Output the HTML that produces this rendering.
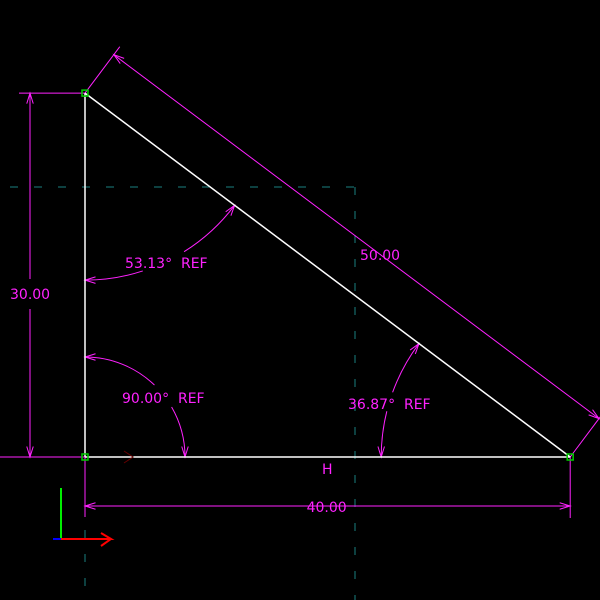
<!DOCTYPE html>
<html><head><meta charset="utf-8"><style>
html,body{margin:0;padding:0;background:#000;width:600px;height:600px;overflow:hidden}
svg{display:block}
text{font-family:"DejaVu Sans","Liberation Sans",sans-serif;font-size:14px;fill:#ff22ff;white-space:pre}
</style></head><body>
<svg id="s" width="600" height="600" viewBox="0 0 600 600">
<g stroke="#1a8080" stroke-width="1" stroke-dasharray="8,16" fill="none">
<line x1="10" y1="187" x2="355" y2="187"/>
<line x1="355" y1="187" x2="355" y2="600"/>
<line x1="85" y1="530" x2="85" y2="600"/>
</g>
<g id="dims" stroke="#ff22ff" stroke-width="1" fill="none"></g>
<g id="geo" stroke="#fff" stroke-width="1.5" fill="none"></g>
<g id="labels"></g>
<g>
<line x1="61" y1="488" x2="61" y2="539" stroke="#00ee00" stroke-width="2"/>
<line x1="53" y1="539" x2="61" y2="539" stroke="#0000ff" stroke-width="2"/>
<polyline points="61,539 111,539 101,533 111,539 101,546" stroke="#ff0000" stroke-width="2" fill="none"/>
<polyline points="124,451 133,457 124,463" stroke="#660000" stroke-width="1" fill="none"/>
</g>
</svg>
<script>
const sideLabels=["30.00","40.00","50.00"];
const sideValues=[30,40,50];
const angleValues=[53.13,90.00,36.87];
const scale=12.13;
const A=[85,457-sideValues[0]*scale], B=[85,457], C=[85+sideValues[1]*scale,457];
const NS="http://www.w3.org/2000/svg";
function mk(parent,tag,attrs){const e=document.createElementNS(NS,tag);for(const k in attrs)e.setAttribute(k,attrs[k]);document.getElementById(parent).appendChild(e);return e;}
function line(p,a,b,name){const e=mk(p,'line',{x1:a[0],y1:a[1],x2:b[0],y2:b[1]});

return e;}
function arrow(tip,dir,name){const L=11,w=0.3;const a=Math.atan2(dir[1],dir[0]);
const p1=[tip[0]-L*Math.cos(a-w),tip[1]-L*Math.sin(a-w)],p2=[tip[0]-L*Math.cos(a+w),tip[1]-L*Math.sin(a+w)];
const e=mk('dims','polyline',{points:`${p1} ${tip} ${p2}`});

}
function txt(x,y,s,name){const e=mk('labels','text',{x:x,y:y});e.textContent=s;

}
line('geo',A,B,'vertical-leg');line('geo',B,C,'horizontal-leg');line('geo',A,C,'hypotenuse');
[A,B,C].forEach((p,i)=>{const r=mk('geo','rect',{x:p[0]-3,y:p[1]-3,width:6,height:6,stroke:'#00cc00','stroke-width':1.5});

});
line('dims',[19,A[1]],A,'vertical-extension-top');
line('dims',[0,B[1]],B,'vertical-extension-bottom');
const ym=293;
line('dims',[30,A[1]],[30,ym-14],'vertical-dim-line-top');line('dims',[30,ym+16],[30,B[1]],'vertical-dim-line-bottom');
arrow([30,A[1]],[0,-1],'vertical-arrow-top');arrow([30,B[1]],[0,1],'vertical-arrow-bottom');
txt(10,ym+6,sideLabels[0],'vertical-dim-value');
const yd=506;
line('dims',[B[0],B[1]],[B[0],517],'horizontal-extension-left');line('dims',[C[0],C[1]],[C[0],518],'horizontal-extension-right');
line('dims',[B[0],yd],[C[0],yd],'horizontal-dim-line');
arrow([B[0],yd],[-1,0],'horizontal-arrow-left');arrow([C[0],yd],[1,0],'horizontal-arrow-right');
txt((B[0]+C[0])/2-21,yd+6,sideLabels[1],'horizontal-dim-value');
txt(322,474,'H','horizontal-constraint');
const dx=C[0]-A[0],dy=C[1]-A[1],len=Math.hypot(dx,dy),u=[dx/len,dy/len],n=[dy/len,-dx/len];
const off=48;const A2=[A[0]+n[0]*off,A[1]+n[1]*off],C2=[C[0]+n[0]*off,C[1]+n[1]*off];
line('dims',A,[A[0]+n[0]*(off+10),A[1]+n[1]*(off+10)],'hyp-extension-top');
line('dims',C,[C[0]+n[0]*(off+3),C[1]+n[1]*(off+3)],'hyp-extension-bottom');
line('dims',A2,C2,'hyp-dim-line');
arrow(A2,[-u[0],-u[1]],'hyp-arrow-top');arrow(C2,u,'hyp-arrow-bottom');
txt(360,260,sideLabels[2],'hyp-dim-value');
function arc(c,r,a0,a1,name){const d=Math.PI/180;const p0=[c[0]+r*Math.cos(a0*d),c[1]+r*Math.sin(a0*d)],p1=[c[0]+r*Math.cos(a1*d),c[1]+r*Math.sin(a1*d)];
const e=mk('dims','path',{d:`M${p0} A${r},${r} 0 0 ${a1>a0?1:0} ${p1}`});

}
function arcArrow(c,r,a,sgn,name){const d=Math.PI/180;const tip=[c[0]+r*Math.cos(a*d),c[1]+r*Math.sin(a*d)];
arrow(tip,[-Math.sin(a*d)*sgn,Math.cos(a*d)*sgn],name);}
const hypA=Math.atan2(dy,dx)*180/Math.PI;
arc(A,187,90,72,'angle-a-arc-1');arc(A,187,58,hypA,'angle-a-arc-2');
arcArrow(A,187,90,1,'angle-a-arrow-1');arcArrow(A,187,hypA,-1,'angle-a-arrow-2');
txt(125,268,angleValues[0].toFixed(2)+'°  REF','angle-a-value');
arc(B,100,-90,-46,'angle-b-arc-1');arc(B,100,-30,0,'angle-b-arc-2');
arcArrow(B,100,-90,-1,'angle-b-arrow-1');arcArrow(B,100,0,1,'angle-b-arrow-2');
txt(122,403,angleValues[1].toFixed(2)+'°  REF','angle-b-value');
arc(C,189,180+hypA,200,'angle-c-arc-1');arc(C,189,194,180,'angle-c-arc-2');
arcArrow(C,189,180+hypA,1,'angle-c-arrow-1');arcArrow(C,189,180,-1,'angle-c-arrow-2');
txt(348,409,angleValues[2].toFixed(2)+'°  REF','angle-c-value');
</script>
</body></html>
